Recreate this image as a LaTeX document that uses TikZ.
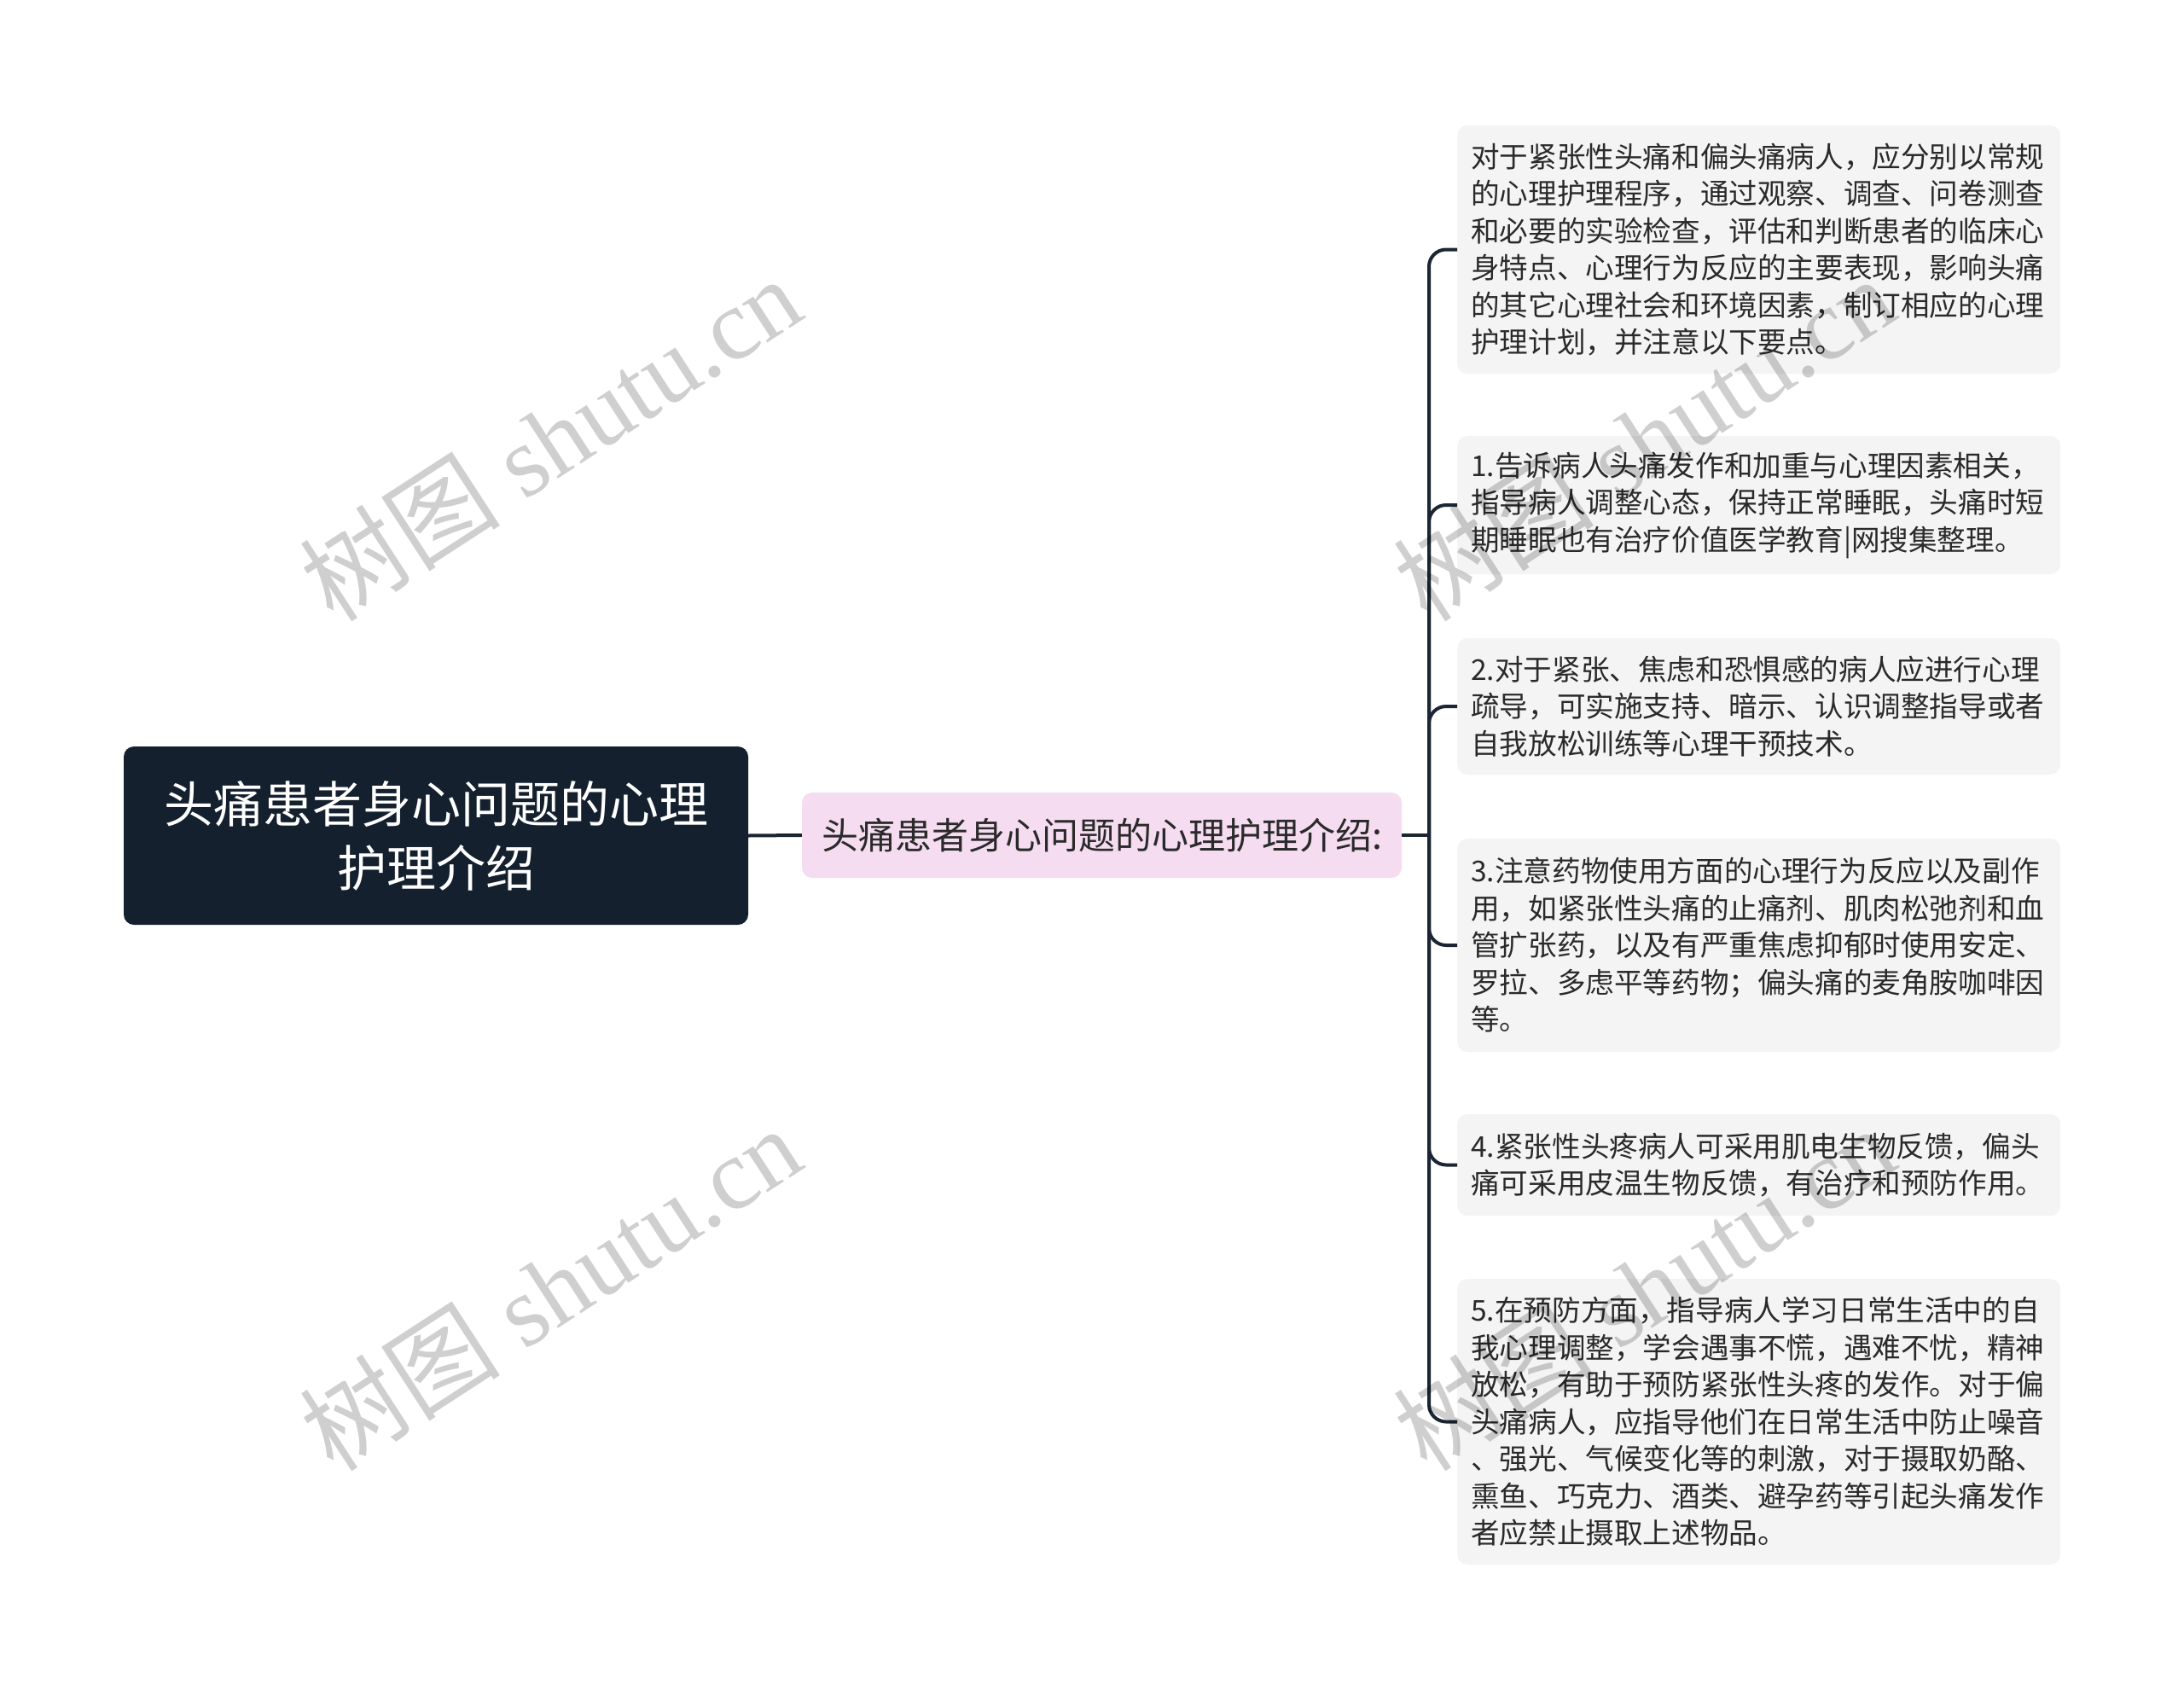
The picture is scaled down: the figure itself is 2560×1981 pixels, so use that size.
\documentclass[tikz,border=0pt]{standalone}
\usepackage{fontspec}
\setmainfont{Liberation Serif}
\newfontfamily\cjk{Noto Sans CJK SC}
\definecolor{navy}{HTML}{15202F}
\definecolor{linecol}{HTML}{1B2533}
\definecolor{pinkfill}{HTML}{F5DCF0}
\definecolor{leaffill}{HTML}{F4F4F4}
\definecolor{txt}{HTML}{2A2A2A}
\tikzset{
  rootbox/.style={fill=navy, rounded corners=12pt, minimum width=732pt, minimum height=209pt,
    inner sep=0pt, text=white, align=center, font=\cjk\fontsize{58}{75}\selectfont},
  midbox/.style={fill=pinkfill, rounded corners=12pt, minimum width=703pt, minimum height=100pt,
    inner sep=0pt, text=txt, font=\cjk\fontsize{43}{50}\selectfont},
  leafbox/.style={fill=leaffill, rounded corners=12pt, anchor=west, minimum width=707pt,
    inner xsep=16pt, inner ysep=0pt, text width=675pt, align=left, text=txt,
    font=\cjk\fontsize{33.6}{43.5}\selectfont},
  conn/.style={draw=linecol, line width=4pt},
  branch/.style={conn, rounded corners=20pt},
  wm/.style={text=black, text opacity=0.19, rotate=33,
    font=\fontsize{118}{118}\selectfont, inner sep=0pt}
}
\begin{document}
\begin{tikzpicture}[x=1pt,y=-1pt]
\useasboundingbox[fill=white] (0,0) rectangle (2560,1981);

\node[rootbox] (root) at (511,979.5) {头痛患者身心问题的心理\\护理介绍};
\node[midbox] (mid) at (1291.5,979) {头痛患者身心问题的心理护理介绍:};

\node[leafbox, minimum height=291pt] (l0) at (1708,292.5) {对于紧张性头痛和偏头痛病人，应分别以常规\\的心理护理程序，通过观察、调查、问卷测查\\和必要的实验检查，评估和判断患者的临床心\\身特点、心理行为反应的主要表现，影响头痛\\的其它心理社会和环境因素，制订相应的心理\\护理计划，并注意以下要点。};
\node[leafbox, minimum height=162pt] (l1) at (1708,592) {1.告诉病人头痛发作和加重与心理因素相关，\\指导病人调整心态，保持正常睡眠，头痛时短\\期睡眠也有治疗价值医学教育|网搜集整理。};
\node[leafbox, minimum height=160pt] (l2) at (1708,828) {2.对于紧张、焦虑和恐惧感的病人应进行心理\\疏导，可实施支持、暗示、认识调整指导或者\\自我放松训练等心理干预技术。};
\node[leafbox, minimum height=250pt] (l3) at (1708,1108) {3.注意药物使用方面的心理行为反应以及副作\\用，如紧张性头痛的止痛剂、肌肉松弛剂和血\\管扩张药，以及有严重焦虑抑郁时使用安定、\\罗拉、多虑平等药物；偏头痛的麦角胺咖啡因\\等。};
\node[leafbox, minimum height=119pt] (l4) at (1708,1365.5) {4.紧张性头疼病人可采用肌电生物反馈，偏头\\痛可采用皮温生物反馈，有治疗和预防作用。};
\node[leafbox, minimum height=335pt] (l5) at (1708,1666.5) {5.在预防方面，指导病人学习日常生活中的自\\我心理调整，学会遇事不慌，遇难不忧，精神\\放松，有助于预防紧张性头疼的发作。对于偏\\头痛病人，应指导他们在日常生活中防止噪音\\、强光、气候变化等的刺激，对于摄取奶酪、\\熏鱼、巧克力、酒类、避孕药等引起头痛发作\\者应禁止摄取上述物品。};

\coordinate (fork) at (1675,979);
\draw[conn] (root.east) -- (mid.west);
\draw[conn] (mid.east) -- (fork);
\foreach \n in {l0,l1,l2,l3,l4,l5}{
  \draw[branch] (fork) |- (\n.west);
}

\node[wm] (wm1) at (645,514) {{\cjk 树图} shutu.cn};
\node[wm] (wm2) at (1927,514) {{\cjk 树图} shutu.cn};
\node[wm] (wm3) at (645,1510) {{\cjk 树图} shutu.cn};
\node[wm] (wm4) at (1927,1510) {{\cjk 树图} shutu.cn};
\end{tikzpicture}
\end{document}
